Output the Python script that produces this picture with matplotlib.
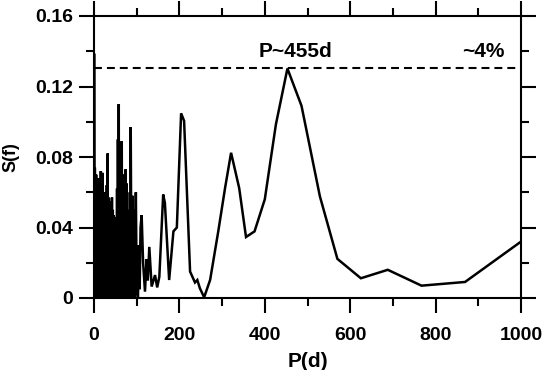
import matplotlib
matplotlib.use("Agg")
import matplotlib.pyplot as plt
from matplotlib.ticker import MultipleLocator

# Short-period part (dense, half-day steps)
period_short = [1.0, 1.5, 2.0, 2.5, 3.0, 3.5, 4.0, 4.5, 5.0, 5.5, 6.0, 6.5, 7.0, 7.5, 8.0, 8.5,
                9.0, 9.5, 10.0, 10.5, 11.0, 11.5, 12.0, 12.5, 13.0, 13.5, 14.0, 14.5, 15.0, 15.5,
                16.0, 16.5, 17.0, 17.5, 18.0, 18.5, 19.0, 19.5, 20.0, 20.5, 21.0, 21.5, 22.0, 22.5,
                23.0, 23.5, 24.0, 24.5, 25.0, 25.5, 26.0, 26.5, 27.0, 27.5, 28.0, 28.5, 29.0, 29.5,
                30.0, 30.5, 31.0, 31.5, 32.0, 32.5, 33.0, 33.5, 34.0, 34.5, 35.0, 35.5, 36.0, 36.5,
                37.0, 37.5, 38.0, 38.5, 39.0, 39.5, 40.0, 40.5, 41.0, 41.5, 42.0, 42.5, 43.0, 43.5,
                44.0, 44.5, 45.0, 45.5, 46.0, 46.5, 47.0, 47.5, 48.0, 48.5, 49.0, 49.5, 50.0, 50.5,
                51.0, 51.5, 52.0, 52.5, 53.0, 53.5, 54.0, 54.5, 55.0, 55.5, 56.0, 56.5, 57.0, 57.5,
                58.0, 58.5, 59.0, 59.5]
power_short = [0.138, 0.0, 0.074, 0.002, 0.065, 0.0, 0.058, 0.004, 0.070, 0.0, 0.055, 0.003,
               0.062, 0.0, 0.050, 0.006, 0.068, 0.0, 0.048, 0.002, 0.060, 0.0, 0.052, 0.005,
               0.058, 0.0, 0.047, 0.004, 0.062, 0.0, 0.072, 0.003, 0.055, 0.0, 0.050, 0.006,
               0.060, 0.0, 0.071, 0.002, 0.045, 0.0, 0.058, 0.004, 0.050, 0.0, 0.055, 0.005,
               0.047, 0.0, 0.060, 0.003, 0.052, 0.0, 0.048, 0.006, 0.056, 0.0, 0.064, 0.002,
               0.050, 0.0, 0.082, 0.004, 0.052, 0.0, 0.057, 0.005, 0.045, 0.0, 0.050, 0.003,
               0.046, 0.0, 0.052, 0.006, 0.044, 0.0, 0.055, 0.004, 0.048, 0.0, 0.057, 0.008,
               0.042, 0.0, 0.050, 0.010, 0.045, 0.0, 0.047, 0.012, 0.040, 0.0, 0.046, 0.010,
               0.042, 0.0, 0.044, 0.015, 0.038, 0.0, 0.045, 0.012, 0.040, 0.0, 0.062, 0.010,
               0.048, 0.0, 0.090, 0.015, 0.050, 0.0, 0.110, 0.020, 0.060, 0.0]

# Longer-period part
period_long = [60, 61, 62, 63, 64, 65, 66, 67, 68, 69, 70, 71, 72, 73, 74, 75, 76, 77, 78, 79,
               80, 81, 82, 83, 84, 85, 86, 87, 88, 89, 90, 92, 94, 95, 97, 98, 100, 103, 105,
               107, 109, 111.6, 115, 119.4, 123, 126, 129.5, 135, 143, 148, 153, 162, 166, 176,
               186, 194, 204, 211, 225, 236.5, 242, 248, 258, 272, 291, 307, 321, 340, 356, 376,
               400, 426, 453, 486, 529, 570, 625, 688, 767, 869, 1000]
power_long = [0.075, 0.010, 0.065, 0.0, 0.052, 0.089, 0.005, 0.062, 0.0, 0.070, 0.010,
              0.045, 0.0, 0.060, 0.073, 0.004, 0.065, 0.010, 0.050, 0.0, 0.045, 0.008, 0.040,
              0.0, 0.060, 0.010, 0.097, 0.045, 0.020, 0.0, 0.058, 0.008, 0.050, 0.0, 0.040,
              0.060, 0.005, 0.0, 0.030, 0.005, 0.040, 0.047, 0.020, 0.0036, 0.022, 0.010,
              0.029, 0.0065, 0.013, 0.006, 0.012, 0.0587, 0.054, 0.0102, 0.0378, 0.0400,
              0.1048, 0.1005, 0.015, 0.0088, 0.0102, 0.0055, 0.0004, 0.0103, 0.0378, 0.0625,
              0.0824, 0.0624, 0.0346, 0.0378, 0.056, 0.0985, 0.1302, 0.109, 0.0577, 0.0222,
              0.0112, 0.016, 0.0070, 0.0091, 0.032]

threshold = 0.1305
peak_label = "P~455d"
level_label = "~4%"
xlabel = "P(d)"
ylabel = "S(f)"
xticks = [0, 200, 400, 600, 800, 1000]
yticks = [0, 0.04, 0.08, 0.12, 0.16]
yticklabels = ["0", "0.04", "0.08", "0.12", "0.16"]

period = period_short + period_long
power = power_short + power_long

plt.rcParams['font.family'] = ['Liberation Sans', 'DejaVu Sans']
plt.rcParams['font.weight'] = 'bold'

fig = plt.figure(figsize=(5.45, 3.70), dpi=100)
ax = fig.add_axes([94/545, 1-298/370, (521-94)/545, (298-16)/370])

ax.plot(period, power, color='black', lw=1.8, solid_joinstyle='miter')
ax.axhline(threshold, color='black', lw=1.5, dashes=(3.8, 2.4))

ax.set_xlim(0, 1000)
ax.set_ylim(0, 0.16)
ax.set_xticks(xticks)
ax.set_xticklabels([str(t) for t in xticks])
ax.set_yticks(yticks)
ax.set_yticklabels(yticklabels)
ax.xaxis.set_minor_locator(MultipleLocator(100))
ax.yaxis.set_minor_locator(MultipleLocator(0.02))

for s in ax.spines.values():
    s.set_linewidth(1.5)
ax.tick_params(which='both', direction='out', top=True, right=True, width=1.5)
ax.tick_params(which='major', length=11, labelsize=14)
ax.tick_params(axis='x', which='major', pad=10)
ax.tick_params(axis='y', which='major', pad=4)
ax.tick_params(which='minor', length=5.5)
for lab in ax.get_xticklabels() + ax.get_yticklabels():
    lab.set_fontweight('bold')

ax.set_xlabel(xlabel, fontsize=15, fontweight='bold')
ax.set_ylabel(ylabel, fontsize=13, fontweight='bold')
ax.xaxis.set_label_coords(0.5, -0.19)
ax.yaxis.set_label_coords(-0.175, 0.5)

ax.text(471, 0.1398, peak_label, ha='center', va='center', fontsize=15, fontweight='bold')
ax.text(962, 0.1398, level_label, ha='right', va='center', fontsize=15, fontweight='bold')

fig.savefig("out.png", dpi=100)
